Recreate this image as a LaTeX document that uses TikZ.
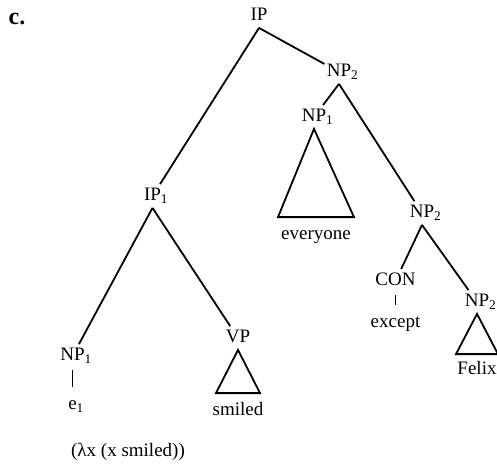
\documentclass[tikz,border=0pt]{standalone}
\usepackage{fontspec}
\setmainfont{Liberation Serif}
\usetikzlibrary{positioning}
\tikzstyle{cat} = [inner sep=1pt, text height=7pt, text depth=2.5pt, font=\fontsize{9.5}{11}\selectfont]
\tikzstyle{branch} = [line width=0.9pt]
\tikzstyle{stem} = [line width=0.9pt, shorten <=1pt, shorten >=3pt]

\begin{document}
\begin{tikzpicture}[on grid]
\useasboundingbox (0,0) rectangle (248.5pt,-231.5pt);

% Nodes
\node (panel) [font=\bfseries\fontsize{12}{14}\selectfont] at (8.5pt,-9.5pt) {c.};
\node (ip) [cat] at (129.5pt,-8pt) {IP};
\node (np2a) [cat, below right=28pt and 40pt of ip] {NP\rlap{\textsubscript{2}}};
\node (np1a) [cat, below left=22.5pt and 12.5pt of np2a] {NP\rlap{\textsubscript{1}}};
\node (everyone) [cat, below right=59pt and 1pt of np1a] {everyone};
\node (np2b) [cat, below right=70.5pt and 41.5pt of np2a] {NP\rlap{\textsubscript{2}}};
\node (con) [cat, below left=34pt and 13.25pt of np2b] {CON};
\node (except) [cat, below=21pt of con] {except};
\node (np2c) [cat, below right=44.5pt and 27.5pt of np2b] {NP\rlap{\textsubscript{2}}};
\node (felix) [cat, below=34pt of np2c] {Felix};
\node (ip1) [cat, below left=90pt and 53.25pt of ip] {IP\rlap{\textsubscript{1}}};
\node (np1b) [cat, below left=80pt and 40pt of ip1] {NP\rlap{\textsubscript{1}}};
\node (e1) [cat, below=24.5pt of np1b] {e\rlap{\textsubscript{1}}};
\node (vp) [cat, below right=71pt and 42.75pt of ip1] {VP};
\node (smiled) [cat, below=36.5pt of vp] {smiled};
\node (lambda) [cat, below right=23.5pt and 27.75pt of e1] {(λx (x smiled))};

% Branches
\draw [branch] (ip.south) -- (np2a);
\draw [branch] (ip.south) -- (ip1);
\draw [branch] (np2a.south) -- (np1a);
\draw [branch] (np2a.south) -- (np2b);
\draw [branch] (np2b.south) -- (con);
\draw [branch] (np2b.south) -- (np2c);
\draw [branch] (ip1.south) -- (np1b);
\draw [branch] (ip1.south) -- (vp);
\draw [stem] (np1b) -- (e1);
\draw [stem] (con) -- (except);

% Triangles
\draw [branch] (np1a.south) -- ([shift={(-19pt,3pt)}]everyone.north) -- ([shift={(19pt,3pt)}]everyone.north) -- cycle;
\draw [branch] (vp.south) -- ([shift={(-11pt,3pt)}]smiled.north) -- ([shift={(11pt,3pt)}]smiled.north) -- cycle;
\draw [branch] (np2c.south) -- ([shift={(-10.5pt,2pt)}]felix.north) -- ([shift={(10.5pt,2pt)}]felix.north) -- cycle;

\end{tikzpicture}
\end{document}
